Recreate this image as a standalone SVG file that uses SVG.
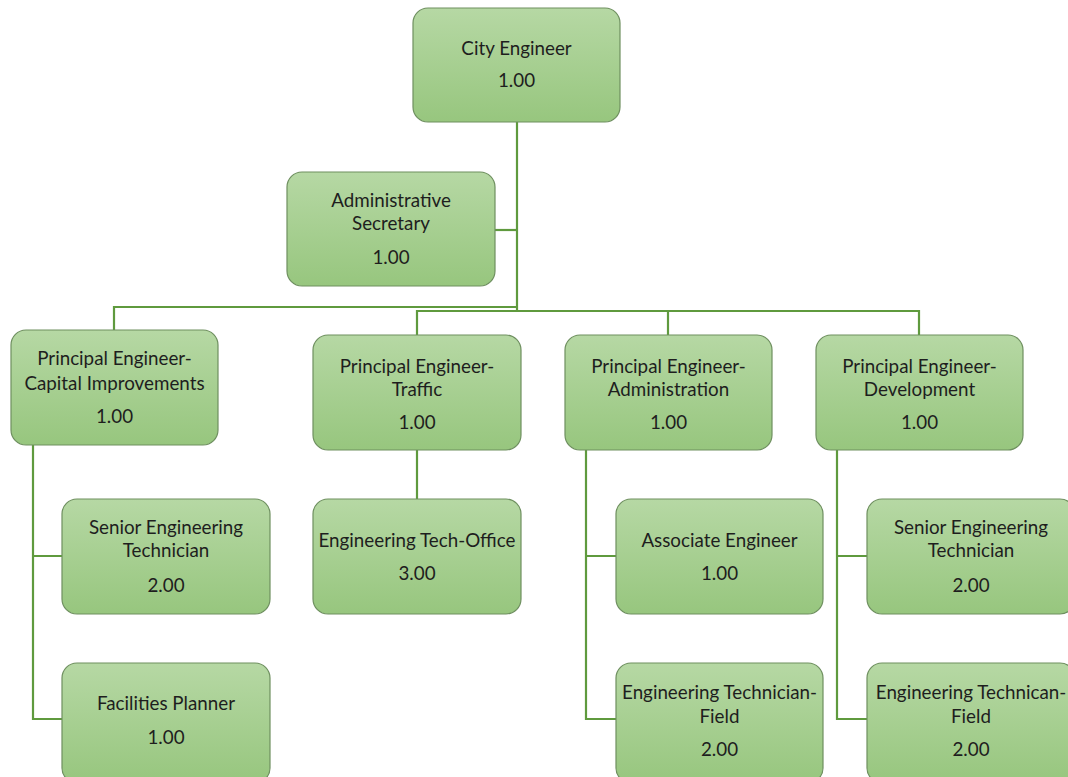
<svg xmlns="http://www.w3.org/2000/svg" width="1068" height="777" viewBox="0 0 1068 777">
<defs>
<linearGradient id="g" x1="0" y1="0" x2="0" y2="1">
<stop offset="0" stop-color="#b6d8a4"/>
<stop offset="1" stop-color="#97c67e"/>
</linearGradient>
</defs>
<style>
.n{fill:url(#g);stroke:#6e8f5f;stroke-width:1.2}
.t{font-family:Lato,"Liberation Sans",Arial,sans-serif;font-size:18.8px;fill:#1e1e1e;text-anchor:middle}
.c{fill:none;stroke:#5f9a3e;stroke-width:2.2}
</style>
<rect width="1068" height="777" fill="#ffffff"/>
<g id="connectors">
<path class="c" d="M517 122V311"/>
<path class="c" d="M495 230H517"/>
<path class="c" d="M114 330V307H517"/>
<path class="c" d="M417 335V311H919V335"/>
<path class="c" d="M668 311V335"/>
<path class="c" d="M33 445V719H62M33 556H62"/>
<path class="c" d="M417 450V499"/>
<path class="c" d="M586 450V719H616M586 556H616"/>
<path class="c" d="M837 450V719H867M837 556H867"/>
</g>
<g id="city-engineer"><rect class="n" x="413" y="8" width="207" height="114" rx="15"/><text class="t" x="516.5" y="55">City Engineer</text><text class="t" x="516.5" y="87">1.00</text></g>
<g id="admin-secretary"><rect class="n" x="287" y="172" width="208" height="114" rx="15"/><text class="t" x="391" y="207">Administrative</text><text class="t" x="391" y="230">Secretary</text><text class="t" x="391" y="264">1.00</text></g>
<g id="pe-capital"><rect class="n" x="11" y="330" width="207" height="115" rx="15"/><text class="t" x="114.5" y="365">Principal Engineer-</text><text class="t" x="114.5" y="390">Capital Improvements</text><text class="t" x="114.5" y="423">1.00</text></g>
<g id="pe-traffic"><rect class="n" x="313" y="335" width="208" height="115" rx="15"/><text class="t" x="417" y="373">Principal Engineer-</text><text class="t" x="417" y="396">Traffic</text><text class="t" x="417" y="429">1.00</text></g>
<g id="pe-admin"><rect class="n" x="565" y="335" width="207" height="115" rx="15"/><text class="t" x="668.5" y="373">Principal Engineer-</text><text class="t" x="668.5" y="396">Administration</text><text class="t" x="668.5" y="429">1.00</text></g>
<g id="pe-development"><rect class="n" x="816" y="335" width="207" height="115" rx="15"/><text class="t" x="919.5" y="373">Principal Engineer-</text><text class="t" x="919.5" y="396">Development</text><text class="t" x="919.5" y="429">1.00</text></g>
<g id="senior-tech-1"><rect class="n" x="62" y="499" width="208" height="115" rx="15"/><text class="t" x="166" y="534">Senior Engineering</text><text class="t" x="166" y="557">Technician</text><text class="t" x="166" y="592">2.00</text></g>
<g id="facilities-planner"><rect class="n" x="62" y="663" width="208" height="120" rx="15"/><text class="t" x="166" y="710">Facilities Planner</text><text class="t" x="166" y="744">1.00</text></g>
<g id="tech-office"><rect class="n" x="313" y="499" width="208" height="115" rx="15"/><text class="t" x="417" y="547">Engineering Tech-Office</text><text class="t" x="417" y="580">3.00</text></g>
<g id="associate-engineer"><rect class="n" x="616" y="499" width="207" height="115" rx="15"/><text class="t" x="719.5" y="547">Associate Engineer</text><text class="t" x="719.5" y="580">1.00</text></g>
<g id="tech-field-1"><rect class="n" x="616" y="663" width="207" height="120" rx="15"/><text class="t" x="719.5" y="699">Engineering Technician-</text><text class="t" x="719.5" y="723">Field</text><text class="t" x="719.5" y="756">2.00</text></g>
<g id="senior-tech-2"><rect class="n" x="867" y="499" width="208" height="115" rx="15"/><text class="t" x="971" y="534">Senior Engineering</text><text class="t" x="971" y="557">Technician</text><text class="t" x="971" y="592">2.00</text></g>
<g id="tech-field-2"><rect class="n" x="867" y="663" width="208" height="120" rx="15"/><text class="t" x="971" y="699">Engineering Technican-</text><text class="t" x="971" y="723">Field</text><text class="t" x="971" y="756">2.00</text></g>
</svg>
